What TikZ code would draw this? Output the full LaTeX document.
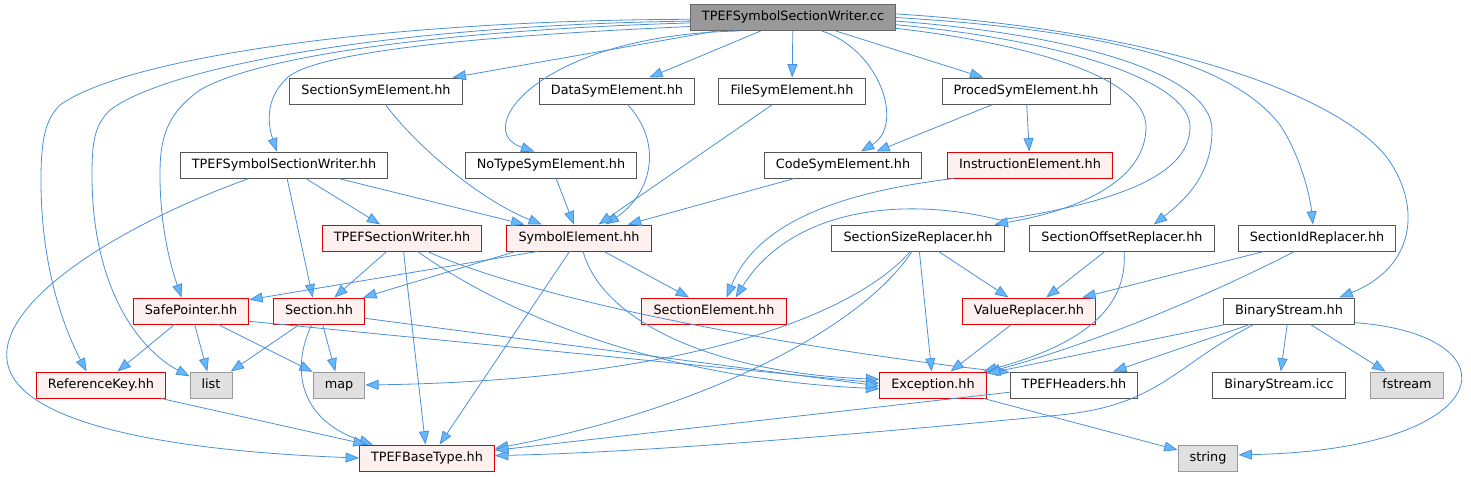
\documentclass[tikz,border=0pt]{standalone}
\usepackage{fontspec}
\setmainfont{DejaVu Sans}
\usepackage{tikz}
\usetikzlibrary{arrows.meta}
\definecolor{edgeblue}{HTML}{4A90D9}
\definecolor{tipblue}{HTML}{63B8FF}
\definecolor{boxgray}{HTML}{555555}
\definecolor{truncred}{HTML}{E00000}
\definecolor{truncfill}{HTML}{FFF0F0}
\definecolor{sysgray}{HTML}{999999}
\definecolor{sysfill}{HTML}{E0E0E0}
\definecolor{rootfill}{HTML}{999999}
\definecolor{rootline}{HTML}{666666}

\begin{document}
\begin{tikzpicture}[x=0.75pt,y=-0.75pt,
  font=\fontsize{9.6}{11}\selectfont,
  filebox/.style={draw=boxgray,fill=white,line width=0.75pt,minimum height=19.5pt,
    inner xsep=8.7pt,inner ysep=0pt,text height=7pt,text depth=2.2pt},
  truncbox/.style={filebox,draw=truncred,fill=truncfill},
  sysbox/.style={filebox,draw=sysgray,fill=sysfill},
  rootbox/.style={filebox,draw=rootline,fill=rootfill},
  dep/.style={draw=edgeblue,line width=0.6pt,-{Triangle[length=10pt,width=7.5pt,fill=tipblue]}}]
  \useasboundingbox (0,0) rectangle (1471,476);

  \node[rootbox] (cc) at (793,17.5) {TPEFSymbolSectionWriter.cc};

  \node[filebox] (secsym) at (376,91) {SectionSymElement.hh};
  \node[filebox] (datasym) at (617,91) {DataSymElement.hh};
  \node[filebox] (filesym) at (792,91) {FileSymElement.hh};
  \node[filebox] (procsym) at (1026,91) {ProcedSymElement.hh};

  \node[filebox] (writerhh) at (284,165) {TPEFSymbolSectionWriter.hh};
  \node[filebox] (notype) at (551,165) {NoTypeSymElement.hh};
  \node[filebox] (codesym) at (843,165) {CodeSymElement.hh};
  \node[truncbox] (instr) at (1030,165) {InstructionElement.hh};

  \node[truncbox] (secwriter) at (402,238) {TPEFSectionWriter.hh};
  \node[truncbox] (symel) at (579,238) {SymbolElement.hh};
  \node[filebox] (sizerep) at (918,238) {SectionSizeReplacer.hh};
  \node[filebox] (offrep) at (1122,238) {SectionOffsetReplacer.hh};
  \node[filebox] (idrep) at (1317,238) {SectionIdReplacer.hh};

  \node[truncbox] (safeptr) at (191,311) {SafePointer.hh};
  \node[truncbox] (section) at (319,311) {Section.hh};
  \node[truncbox] (secel) at (714,311) {SectionElement.hh};
  \node[truncbox] (valrep) at (1029,311) {ValueReplacer.hh};
  \node[filebox] (binstr) at (1289,311) {BinaryStream.hh};

  \node[truncbox] (refkey) at (101,385) {ReferenceKey.hh};
  \node[sysbox] (list) at (211,385) {list};
  \node[sysbox] (map) at (339,385) {map};
  \node[truncbox] (exc) at (933,385) {Exception.hh};
  \node[filebox] (headers) at (1074,385) {TPEFHeaders.hh};
  \node[filebox] (bsicc) at (1279,385) {BinaryStream.icc};
  \node[sysbox] (fstream) at (1407,385) {fstream};

  \node[truncbox] (basetype) at (427,458) {TPEFBaseType.hh};
  \node[sysbox] (string) at (1208,458) {string};

  \draw[dep] (cc) -- (secsym);
  \draw[dep] (cc) -- (datasym);
  \draw[dep] (cc) -- (filesym);
  \draw[dep] (cc) -- (procsym);
  \draw[dep] (cc.-25) .. controls (880,50) and (905,125) .. (codesym.37);
  \draw[dep] (cc.194) .. controls (540,35) and (470,130) .. (notype.141);
  \draw[dep] (cc.185) .. controls (500,35) and (310,50) .. (285,80) .. controls (265,100) and (268,125) .. (writerhh.118);
  \draw[dep] (cc.183) .. controls (450,30) and (260,55) .. (200,90) .. controls (165,115) and (160,140) .. (160,175) .. controls (160,230) and (172,270) .. (safeptr.125);
  \draw[dep] (cc.182) .. controls (400,25) and (170,65) .. (110,110) .. controls (95,125) and (92,140) .. (92,175) .. controls (92,290) and (140,350) .. (list.158);
  \draw[dep] (cc.181) .. controls (400,20) and (130,55) .. (60,105) .. controls (45,120) and (41,140) .. (41,180) .. controls (41,270) and (65,330) .. (refkey.137);
  \draw[dep] (cc.2) .. controls (1150,30) and (1330,90) .. (1385,155) .. controls (1420,200) and (1420,265) .. (binstr.15);
  \draw[dep] (cc.0) .. controls (1100,30) and (1230,60) .. (1280,125) .. controls (1300,155) and (1310,195) .. (idrep.107);
  \draw[dep] (cc.-2) .. controls (1080,35) and (1212,75) .. (1212,130) .. controls (1212,175) and (1185,200) .. (offrep.23);
  \draw[dep] (cc.-4) .. controls (1060,40) and (1190,80) .. (1190,127) .. controls (1190,180) and (1100,205) .. (1000,220) .. controls (900,195) and (790,210) .. (secel.32);
  \draw[dep] (cc.-6) .. controls (1040,45) and (1146,80) .. (1146,127) .. controls (1146,180) and (1080,210) .. (sizerep.10);

  \draw[dep] (procsym) -- (codesym);
  \draw[dep] (procsym) -- (instr);
  \draw[dep] (secsym.-55) .. controls (415,145) and (480,200) .. (symel.160);
  \draw[dep] (datasym.-52) .. controls (665,145) and (650,195) .. (symel.27);
  \draw[dep] (filesym) -- (symel);
  \draw[dep] (notype) -- (symel);
  \draw[dep] (codesym) -- (symel);
  \draw[dep] (instr.190) .. controls (860,190) and (760,215) .. (secel.47);

  \draw[dep] (writerhh) -- (symel);
  \draw[dep] (writerhh) -- (secwriter);
  \draw[dep] (writerhh.-77) -- (section.115);
  \draw[dep] (writerhh.201) .. controls (120,225) and (0,300) .. (7,360) .. controls (15,430) and (200,452) .. (basetype.west);

  \draw[dep] (secwriter) -- (section);
  \draw[dep] (secwriter) -- (basetype);
  \draw[dep] (secwriter.-41) .. controls (500,310) and (650,378) .. (exc.184);
  \draw[dep] (secwriter.-28) .. controls (560,310) and (850,355) .. (headers.169);

  \draw[dep] (symel.198) -- (safeptr.11);
  \draw[dep] (symel.192) -- (section.17);
  \draw[dep] (symel.235) -- (basetype.47);
  \draw[dep] (symel) -- (secel);
  \draw[dep] (symel.-73) .. controls (600,315) and (700,372) .. (exc.174);

  \draw[dep] (sizerep) -- (valrep);
  \draw[dep] (sizerep) -- (exc);
  \draw[dep] (sizerep.240) .. controls (860,310) and (700,380) .. (map.east);
  \draw[dep] (sizerep.246) .. controls (860,330) and (700,410) .. (basetype.8);
  \draw[dep] (offrep) -- (valrep);
  \draw[dep] (offrep.-81) .. controls (1128,310) and (1080,345) .. (exc.15);
  \draw[dep] (idrep) -- (valrep);
  \draw[dep] (idrep.211) .. controls (1180,310) and (1070,350) .. (exc.13);

  \draw[dep] (safeptr) -- (refkey);
  \draw[dep] (safeptr) -- (list);
  \draw[dep] (safeptr) -- (map);
  \draw[dep] (safeptr.-10) -- (exc.178);
  \draw[dep] (section) -- (list);
  \draw[dep] (section) -- (map);
  \draw[dep] (section.-9) -- (exc.181);
  \draw[dep] (section.242) .. controls (290,370) and (300,420) .. (basetype.166);
  \draw[dep] (valrep) -- (exc);

  \draw[dep] (binstr.192) -- (exc.12);
  \draw[dep] (binstr) -- (headers);
  \draw[dep] (binstr) -- (bsicc);
  \draw[dep] (binstr) -- (fstream);
  \draw[dep] (binstr.-10) .. controls (1520,335) and (1500,450) .. (string.6);
  \draw[dep] (binstr.201) .. controls (1175,365) and (1160,405) .. (1060,415) .. controls (850,435) and (650,452) .. (basetype.2);

  \draw[dep] (refkey) -- (basetype);
  \draw[dep] (exc) -- (string);
  \draw[dep] (headers) -- (basetype);
\end{tikzpicture}
\end{document}
